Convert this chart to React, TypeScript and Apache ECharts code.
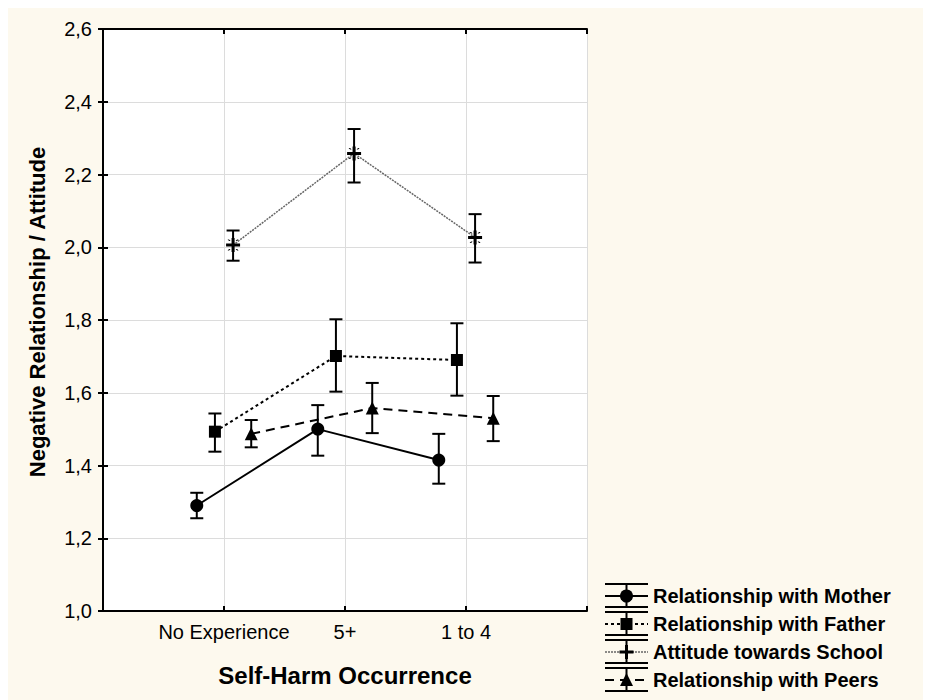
import React, { useEffect, useRef } from "react";
import * as echarts from "echarts";

const categories = ["No Experience", "5+", "1 to 4"];
const seriesNames = [
  "Relationship with Mother",
  "Relationship with Father",
  "Attitude towards School",
  "Relationship with Peers",
];
const yTicks = [1.0, 1.2, 1.4, 1.6, 1.8, 2.0, 2.2, 2.4, 2.6];

const motherMean = [1.29, 1.5, 1.415];
const motherLow = [1.255, 1.427, 1.35];
const motherHigh = [1.325, 1.566, 1.487];

const fatherMean = [1.493, 1.701, 1.69];
const fatherLow = [1.438, 1.603, 1.592];
const fatherHigh = [1.543, 1.802, 1.791];

const schoolMean = [2.006, 2.258, 2.027];
const schoolLow = [1.963, 2.178, 1.958];
const schoolHigh = [2.046, 2.325, 2.091];

const peersMean = [1.487, 1.558, 1.53];
const peersLow = [1.45, 1.489, 1.467];
const peersHigh = [1.525, 1.627, 1.591];

const means = [motherMean, fatherMean, schoolMean, peersMean];
const lows = [motherLow, fatherLow, schoolLow, peersLow];
const highs = [motherHigh, fatherHigh, schoolHigh, peersHigh];

// layout / style (not data)
const offsets = [-0.225, -0.075, 0.075, 0.225];
const STAR =
  "path://M0 5.5 H14 V8.5 H0 Z M5.5 0 H8.5 V14 H5.5 Z M1.5 1.5 L3 1.5 L4.5 3 L3 3 Z M12.5 1.5 L11 1.5 L9.5 3 L11 3 Z M1.5 12.5 L3 12.5 L4.5 11 L3 11 Z M12.5 12.5 L11 12.5 L9.5 11 L11 11 Z";
const symbols = ["circle", "rect", STAR, "triangle"];
const symbolSizes = [13, 12, 14, 13];
const lineStyles: any[] = [
  { color: "#000", width: 2, type: "solid" },
  { color: "#000", width: 2, type: [3, 3] },
  { color: "#666", width: 1.5, type: [2, 1] },
  { color: "#000", width: 2, type: [9, 6] },
];
const FONT = "'Liberation Sans', Arial, sans-serif";
const BG = "#FDF9EE";

export default function App() {
  const ref = useRef<HTMLDivElement>(null);
  useEffect(() => {
    if (!ref.current) return;
    const chart = echarts.init(ref.current, null, { renderer: "svg" });

    const lineSeries = seriesNames.map((name, s) => ({
      name,
      type: "line",
      data: means[s].map((v, i) => [i + 1 + offsets[s], v]),
      symbol: symbols[s],
      symbolSize: symbolSizes[s],
      showSymbol: true,
      itemStyle: { color: "#000" },
      lineStyle: lineStyles[s],
      z: 3,
    }));

    const errSeries = seriesNames.map((name, s) => ({
      name: name + " error",
      type: "custom",
      data: means[s].map((_, i) => [i + 1 + offsets[s], lows[s][i], highs[s][i]]),
      renderItem: (params: any, api: any) => {
        const x = api.value(0);
        const lo = api.coord([x, api.value(1)]);
        const hi = api.coord([x, api.value(2)]);
        const hw = 6.5;
        const st = { stroke: "#000", lineWidth: 2 };
        return {
          type: "group",
          children: [
            { type: "line", shape: { x1: lo[0], y1: lo[1], x2: hi[0], y2: hi[1] }, style: st },
            { type: "line", shape: { x1: lo[0] - hw, y1: lo[1], x2: lo[0] + hw, y2: lo[1] }, style: st },
            { type: "line", shape: { x1: hi[0] - hw, y1: hi[1], x2: hi[0] + hw, y2: hi[1] }, style: st },
          ],
        };
      },
      z: 4,
      silent: true,
    }));

    // legend drawn as graphic
    const legendX0 = 597;
    const legendX1 = 640;
    const legendCx = (legendX0 + legendX1) / 2;
    const legendY0 = 588;
    const legendStep = 28;
    const legend: any[] = [];
    seriesNames.forEach((name, s) => {
      const cy = legendY0 + s * legendStep;
      const st = { stroke: "#000", lineWidth: 2 };
      legend.push({ type: "line", shape: { x1: legendX0, y1: cy - 12, x2: legendX1, y2: cy - 12 }, style: st });
      legend.push({ type: "line", shape: { x1: legendX0, y1: cy + 11, x2: legendX1, y2: cy + 11 }, style: st });
      legend.push({ type: "line", shape: { x1: legendCx, y1: cy - 12, x2: legendCx, y2: cy + 11 }, style: st });
      const ls = lineStyles[s];
      legend.push({
        type: "line",
        shape: { x1: legendX0, y1: cy, x2: legendX1, y2: cy },
        style: { stroke: ls.color, lineWidth: ls.width, lineDash: ls.type === "solid" ? null : ls.type },
      });
      if (s === 0) legend.push({ type: "circle", shape: { cx: legendCx, cy, r: 6.5 }, style: { fill: "#000" } });
      if (s === 1) legend.push({ type: "rect", shape: { x: legendCx - 6, y: cy - 6, width: 12, height: 12 }, style: { fill: "#000" } });
      if (s === 2) {
        legend.push({ type: "rect", shape: { x: legendCx - 7, y: cy - 1.5, width: 14, height: 3 }, style: { fill: "#000" } });
        legend.push({ type: "rect", shape: { x: legendCx - 1.5, y: cy - 7, width: 3, height: 14 }, style: { fill: "#000" } });
      }
      if (s === 3)
        legend.push({
          type: "polygon",
          shape: { points: [[legendCx, cy - 7], [legendCx - 6.5, cy + 6], [legendCx + 6.5, cy + 6]] },
          style: { fill: "#000" },
        });
      legend.push({
        type: "text",
        x: 645,
        y: cy,
        style: {
          text: name,
          font: `bold 20px ${FONT}`,
          fill: "#000",
          verticalAlign: "middle",
          align: "left",
        },
      });
    });

    const fmtY = (v: number) => v.toFixed(1).replace(".", ",");

    chart.setOption({
      animation: false,
      backgroundColor: BG,
      grid: {
        left: 95,
        top: 21,
        right: 336,
        bottom: 89,
        show: true,
        backgroundColor: "#fff",
        borderWidth: 0,
      },
      xAxis: [
        {
          type: "value",
          min: 0,
          max: 4,
          interval: 1,
          position: "bottom",
          name: "Self-Harm Occurrence",
          nameLocation: "middle",
          nameGap: 52,
          nameTextStyle: { fontFamily: FONT, fontWeight: "bold", fontSize: 24, color: "#000" },
          axisLine: { show: true, lineStyle: { color: "#000", width: 2 } },
          axisTick: { show: true, inside: true, length: 5, lineStyle: { color: "#000", width: 2 } },
          axisLabel: {
            fontFamily: FONT,
            fontSize: 20,
            color: "#000",
            margin: 11,
            formatter: (v: number) => (v >= 1 && v <= categories.length ? categories[Math.round(v) - 1] : ""),
          },
          splitLine: { show: true, lineStyle: { color: "#dcdcdc", width: 1 } },
        },
        {
          type: "value",
          min: 0,
          max: 4,
          interval: 1,
          position: "top",
          axisLine: { show: true, lineStyle: { color: "#000", width: 2 } },
          axisTick: { show: true, inside: true, length: 5, lineStyle: { color: "#000", width: 2 } },
          axisLabel: { show: false },
          splitLine: { show: false },
        },
      ],
      yAxis: [
        {
          type: "value",
          min: 1.0,
          max: 2.6,
          interval: 0.2,
          position: "left",
          name: "Negative Relationship / Attitude",
          nameLocation: "middle",
          nameGap: 55,
          nameTextStyle: {
            fontFamily: FONT,
            fontWeight: "bold",
            fontSize: 22,
            color: "#000",
            padding: [0, 0, 0, 16],
          },
          axisLine: { show: true, lineStyle: { color: "#000", width: 2 } },
          axisTick: { show: true, inside: true, length: 5, lineStyle: { color: "#000", width: 2 } },
          axisLabel: { fontFamily: FONT, fontSize: 20, color: "#000", margin: 11, formatter: fmtY },
          splitLine: { show: true, lineStyle: { color: "#dcdcdc", width: 1 } },
        },
        {
          type: "value",
          min: 1.0,
          max: 2.6,
          interval: 0.2,
          position: "right",
          axisLine: { show: true, lineStyle: { color: "#000", width: 2 } },
          axisTick: { show: true, inside: true, length: 5, lineStyle: { color: "#000", width: 2 } },
          axisLabel: { show: false },
          splitLine: { show: false },
        },
      ],
      series: [...lineSeries, ...errSeries],
      graphic: legend,
    });
    return () => chart.dispose();
  }, []);
  return <div ref={ref} style={{ width: 915, height: 692 }} />;
}
